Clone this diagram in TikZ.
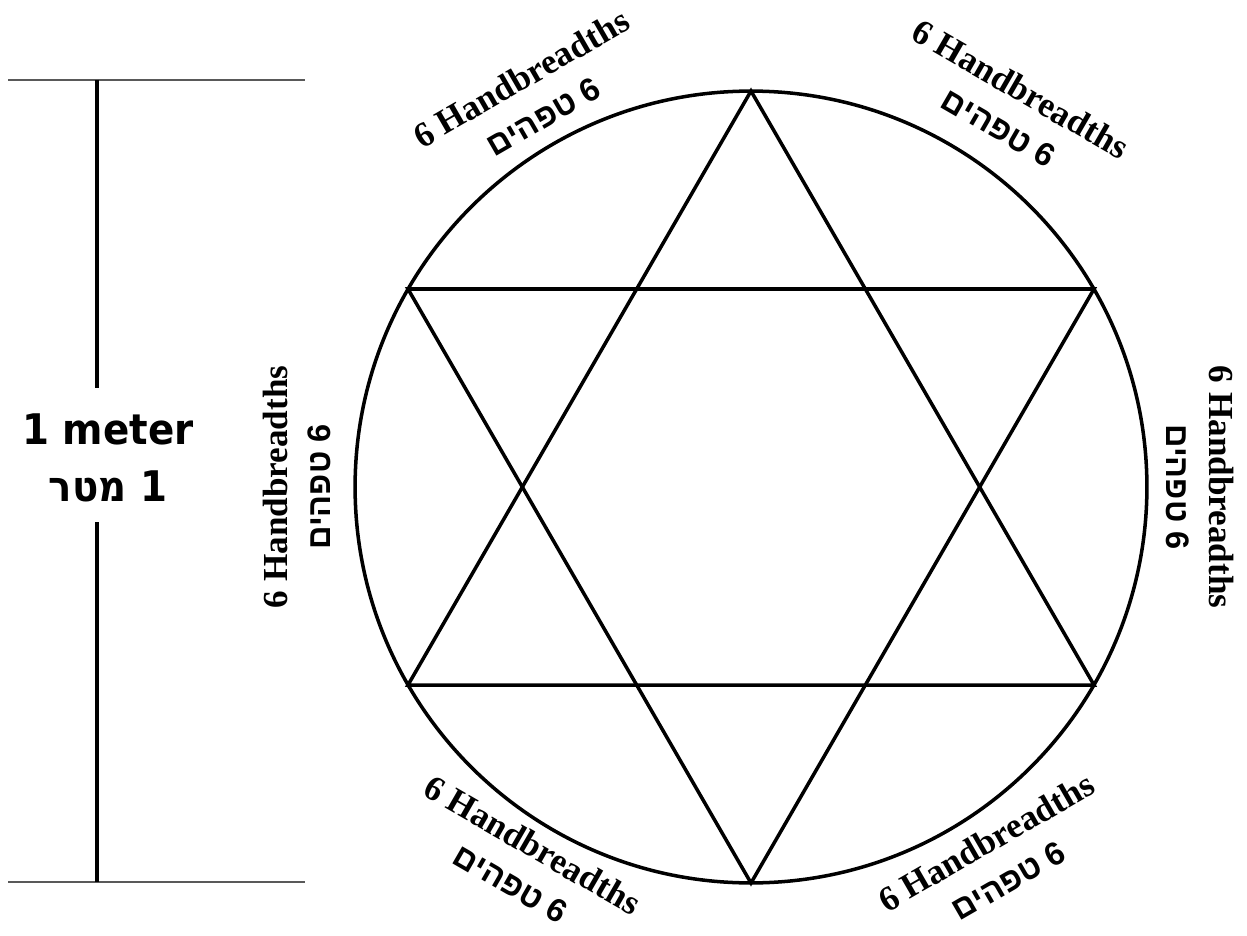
\documentclass[tikz,border=0pt]{standalone}
\usepackage{fontspec}
\setmainfont{Liberation Serif}
\newfontfamily\hebfont[Script=Hebrew]{Liberation Sans}
\newfontfamily\meterfont[Script=Hebrew,FakeStretch=0.92]{DejaVu Sans}
\TeXXeTstate=1
\usetikzlibrary{calc}

\newcommand{\tefach}{6 Handbreadths\\{\hebfont\fontsize{18.5}{25}\selectfont\bfseries\beginR 6 טפהים\endR}}

\begin{document}
\begin{tikzpicture}[x=0.02cm, y=-0.02cm,
  line/.style={line width=2pt},
  side/.style={align=center, font=\fontsize{20}{25}\selectfont\bfseries},
  bar/.style={line width=1.6pt, black!65}
]
\useasboundingbox (0,0) rectangle (1247,936);

% circle and star
\coordinate (c) at (751,487);
\coordinate (t) at (751,91);
\coordinate (ur) at (1094,289);
\coordinate (lr) at (1094,685);
\coordinate (b) at (751,883);
\coordinate (ll) at (408,685);
\coordinate (ul) at (408,289);

\draw[line] (c) circle[radius=7.92cm];
\draw[line] (t) -- (lr) -- (ll) -- cycle;
\draw[line] (b) -- (ul) -- (ur) -- cycle;

% sides
\node[side, rotate=30] (tl) at (532,97) {\tefach};
\node[side, rotate=-30] (tr) at (1010,108) {\tefach};
\node[side, rotate=-90] (rt) at (1200,487) {\tefach};
\node[side, rotate=90] (lt) at (297,487) {\tefach};
\node[side, rotate=-30] (bl) at (522,864) {\tefach};
\node[side, rotate=30] (br) at (997,861) {\tefach};

% scale bar
\coordinate (b1) at (8,80);
\coordinate (b2) at (305,80);
\coordinate (b3) at (8,882);
\coordinate (b4) at (305,882);
\coordinate (vt) at (97,80);
\coordinate (vb) at (97,882);
\coordinate (gt) at (97,388);
\coordinate (gb) at (97,522);
\node[align=center, font=\meterfont\fontsize{24}{32}\selectfont\bfseries] (meter) at (108,458)
  {1 meter\\\beginR 1 מטר\endR};

\draw[bar] (b1) -- (b2);
\draw[bar] (b3) -- (b4);
\draw[line] (vt) -- (gt);
\draw[line] (gb) -- (vb);
\end{tikzpicture}
\end{document}
